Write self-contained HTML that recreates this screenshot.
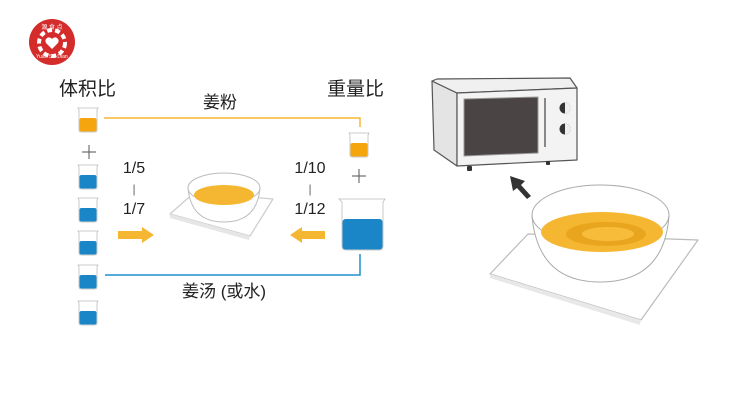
<!DOCTYPE html>
<html><head><meta charset="utf-8"><style>
html,body{margin:0;padding:0;background:#fff;}
svg{display:block;}
text{font-family:"Liberation Sans","Noto Sans CJK SC",sans-serif;}
</style></head><body>
<svg width="730" height="411" viewBox="0 0 730 411" xmlns="http://www.w3.org/2000/svg">
<defs>
<g id="sb">
 <path d="M0,0 H20 L19,2 V22 Q19,24 17,24 H3 Q1,24 1,22 V2 Z" fill="#fff" stroke="#bbb" stroke-width="0.8"/>
</g>
</defs>
<!-- logo -->
<circle cx="52" cy="42" r="23" fill="#d42b2b"/>
<circle cx="52" cy="43" r="13" fill="none" stroke="#fff" stroke-width="4" stroke-dasharray="5 3"/>
<path d="M52,49 l-6,-6 a3.5,3.5 0 0 1 6,-4 a3.5,3.5 0 0 1 6,4 z" fill="#fff"/>
<text x="52" y="29" font-size="6" fill="#fff" text-anchor="middle">源 食 点</text>
<text x="36" y="58" font-size="5" fill="#fff">Yuan Shi Dian</text>

<!-- titles -->
<text x="59" y="95" font-size="19" fill="#222">体积比</text>
<text x="327" y="95" font-size="19" fill="#222">重量比</text>
<text x="203" y="108" font-size="17" fill="#222">姜粉</text>
<text x="182" y="297" font-size="17" fill="#222">姜汤 (或水)</text>

<!-- lines -->
<polyline points="104,118 360,118 360,127" fill="none" stroke="#f5b731" stroke-width="1.5"/>
<polyline points="360,254 360,275 105,275" fill="none" stroke="#1f8fcf" stroke-width="1.5"/>

<!-- left beakers -->
<g transform="translate(78,108)"><use href="#sb"/><rect x="1.5" y="10" width="17" height="13.5" rx="2" fill="#f5a60f"/></g>
<path d="M82,152 H96 M89,145 V159" stroke="#555" stroke-width="1"/>
<g transform="translate(78,165)"><use href="#sb"/><rect x="1.5" y="10" width="17" height="13.5" rx="2" fill="#1a86c8"/></g>
<g transform="translate(78,198)"><use href="#sb"/><rect x="1.5" y="10" width="17" height="13.5" rx="2" fill="#1a86c8"/></g>
<g transform="translate(78,231)"><use href="#sb"/><rect x="1.5" y="10" width="17" height="13.5" rx="2" fill="#1a86c8"/></g>
<g transform="translate(78,265)"><use href="#sb"/><rect x="1.5" y="10" width="17" height="13.5" rx="2" fill="#1a86c8"/></g>
<g transform="translate(78,301)"><use href="#sb"/><rect x="1.5" y="10" width="17" height="13.5" rx="2" fill="#1a86c8"/></g>

<!-- ratios -->
<text x="134" y="173" font-size="16" fill="#222" text-anchor="middle">1/5</text>
<text x="134" y="193" font-size="12" fill="#666" text-anchor="middle">|</text>
<text x="134" y="214" font-size="16" fill="#222" text-anchor="middle">1/7</text>
<text x="310" y="173" font-size="16" fill="#222" text-anchor="middle">1/10</text>
<text x="310" y="193" font-size="12" fill="#666" text-anchor="middle">|</text>
<text x="310" y="214" font-size="16" fill="#222" text-anchor="middle">1/12</text>
<path d="M118,231 H142 V227 L154,235 L142,243 V239 H118 Z" fill="#f5b731"/>
<path d="M325,231 H302 V227 L290,235 L302,243 V239 H325 Z" fill="#f5b731"/>

<!-- center scale & bowl -->
<path d="M170,214 L195,192 L273,199 L250,236 Z" fill="#fff" stroke="#ccc" stroke-width="1.2" stroke-linejoin="round"/>
<path d="M170,214 L170,218 L249,240 L250,236 Z" fill="#e6e6e6"/>
<path d="M188,188 Q191,222 224,222 Q257,222 260,188" fill="#fff" stroke="#bbb" stroke-width="1"/>
<ellipse cx="224" cy="188" rx="36" ry="15" fill="#fff" stroke="#bbb" stroke-width="1"/>
<ellipse cx="224" cy="195" rx="30" ry="10" fill="#f5b731"/>

<!-- right beakers -->
<g transform="translate(349,133)"><use href="#sb"/><rect x="1.5" y="10" width="17" height="13.5" rx="2" fill="#f5a60f"/></g>
<path d="M352,176 H366 M359,169 V183" stroke="#555" stroke-width="1"/>
<path d="M339,199 H385 L383,202 V246 Q383,250 379,250 H346 Q342,250 342,246 V202 Z" fill="#fff" stroke="#bbb" stroke-width="0.8"/>
<rect x="342.5" y="219" width="40" height="30.5" rx="3" fill="#1a86c8"/>

<!-- microwave -->
<path d="M432,81 L457,93 L457,166 L434,150 Z" fill="#e4e4e4" stroke="#555" stroke-width="1.2" stroke-linejoin="round"/>
<path d="M432,81 L437,79 L570,78 L577,88 L457,93 Z" fill="#f0f0f0" stroke="#555" stroke-width="1.2" stroke-linejoin="round"/>
<path d="M457,93 L577,88 L577,160 L457,166 Z" fill="#f3f3f3" stroke="#555" stroke-width="1.2" stroke-linejoin="round"/>
<path d="M464,99 L538,97 L538,153 L464,156 Z" fill="#4a4444" stroke="#999" stroke-width="1"/>
<line x1="545" y1="98" x2="545" y2="147" stroke="#888" stroke-width="2"/>
<circle cx="565" cy="108" r="5.5" fill="#333"/><path d="M565,102.5 a5.5,5.5 0 0 1 0,11 z" fill="#eee"/>
<circle cx="565" cy="129" r="5.5" fill="#333"/><path d="M565,123.5 a5.5,5.5 0 0 1 0,11 z" fill="#eee"/>
<rect x="467" y="166" width="5" height="5" rx="1" fill="#333"/>
<rect x="546" y="161" width="4" height="4" rx="1" fill="#333"/>

<!-- black arrow -->
<path d="M531,196 L521,185 L525,181 L510,176 L513,191 L517,188 L527,199 Z" fill="#333"/>

<!-- right plate and bowl -->
<path d="M490,274 L528,234 L698,240 L641,320 Z" fill="#fff" stroke="#bbb" stroke-width="1.2" stroke-linejoin="round"/>
<path d="M490,274 L490,278 L640,325 L641,320 Z" fill="#e8e8e8"/>
<path d="M532,216 Q538,282 600,282 Q664,282 669,216" fill="#fff" stroke="#aaa" stroke-width="1"/>
<ellipse cx="600.5" cy="215" rx="68.5" ry="30" fill="#fff" stroke="#aaa" stroke-width="1"/>
<ellipse cx="602" cy="232" rx="61" ry="20" fill="#f5b731"/>
<ellipse cx="606" cy="234" rx="40" ry="12" fill="#e9a51d"/>
<ellipse cx="608" cy="234" rx="26" ry="7" fill="#f7bd3a"/>
</svg>
</body></html>
